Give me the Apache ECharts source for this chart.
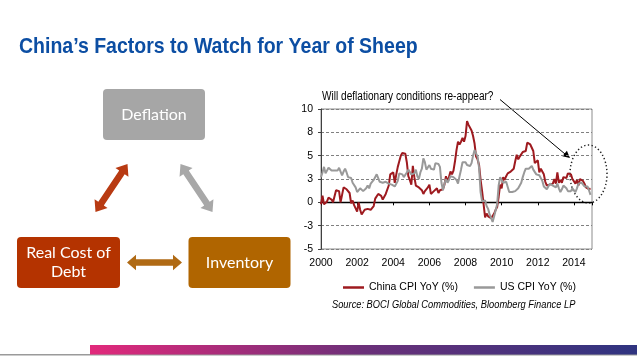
<!DOCTYPE html>
<html><head><meta charset="utf-8">
<script src="https://cdn.jsdelivr.net/npm/echarts@6/dist/echarts.min.js"></script>
<style>html,body{margin:0;padding:0;background:#fff}#c{width:637px;height:356px}</style>
</head><body><div id="c"></div><script>
// ---- data (monthly, Jan 2000 - Dec 2014) ----
const startYear = 2000;
const chinaCpi = [
 -0.2, 0.7, -0.2, -0.3, 0.1, 0.5, 0.5, 0.3, 0.0, 0.0, 1.3, 1.5,
 1.2, 0.0, 0.8, 1.6, 1.7, 1.4, 1.5, 1.0, -0.1, 0.2, -0.3, -0.3,
 -1.0, 0.0, -0.8, -1.3, -1.1, -0.8, -0.9, -0.7, -0.7, -0.8, -0.7, -0.4,
 0.4, 0.2, 0.9, 1.0, 0.7, 0.3, 0.5, 0.9, 1.1, 1.8, 3.0, 3.2,
 3.2, 2.1, 3.0, 3.8, 4.4, 5.0, 5.3, 5.3, 5.2, 4.3, 2.8, 2.4,
 1.9, 3.9, 2.7, 1.8, 1.8, 1.6, 1.8, 1.3, 0.9, 1.2, 1.3, 1.6,
 1.9, 0.9, 0.8, 1.2, 1.4, 1.5, 1.0, 1.3, 1.5, 1.4, 1.9, 2.8,
 2.2, 2.7, 3.3, 3.0, 3.4, 4.4, 5.6, 6.5, 6.2, 6.5, 6.9, 6.5,
 7.1, 8.7, 8.3, 8.5, 7.7, 7.1, 6.3, 4.9, 4.6, 4.0, 2.4, 1.2,
 1.0, -1.6, -1.2, -1.5, -1.4, -1.7, -1.8, -1.2, -0.8, -0.5, 0.6, 1.9,
 1.5, 2.7, 2.4, 2.8, 3.1, 2.9, 3.3, 3.5, 3.6, 4.4, 5.1, 4.6,
 4.9, 4.9, 5.4, 5.3, 5.5, 6.4, 6.5, 6.2, 6.1, 5.5, 4.2, 4.1,
 4.5, 3.2, 3.6, 3.4, 3.0, 2.2, 1.8, 2.0, 1.9, 1.7, 2.0, 2.5,
 2.0, 3.2, 2.1, 2.4, 2.1, 2.7, 2.7, 2.6, 3.1, 3.2, 3.0, 2.5,
 2.5, 2.0, 2.4, 1.8, 2.5, 2.3, 2.3, 2.0, 1.6, 1.6, 1.4, 1.5
];
const usCpi = [
 2.7, 3.2, 3.8, 3.1, 3.2, 3.7, 3.7, 3.4, 3.5, 3.4, 3.4, 3.4,
 3.7, 3.5, 2.9, 3.3, 3.6, 3.2, 2.7, 2.7, 2.6, 2.1, 1.9, 1.6,
 1.1, 1.1, 1.5, 1.6, 1.2, 1.1, 1.5, 1.8, 1.5, 2.0, 2.2, 2.4,
 2.6, 3.0, 3.0, 2.2, 2.1, 2.1, 2.1, 2.2, 2.3, 2.0, 1.8, 1.9,
 1.9, 1.7, 1.7, 2.3, 3.1, 3.3, 3.0, 2.7, 2.5, 3.2, 3.5, 3.3,
 3.0, 3.0, 3.1, 3.5, 2.8, 2.5, 3.2, 3.6, 4.7, 4.3, 3.5, 3.4,
 4.0, 3.6, 3.4, 3.5, 4.2, 4.3, 4.1, 3.8, 2.1, 1.3, 2.0, 2.5,
 2.1, 2.4, 2.8, 2.6, 2.7, 2.7, 2.4, 2.0, 2.8, 3.5, 4.3, 4.1,
 4.3, 4.0, 4.0, 3.9, 4.2, 5.0, 5.6, 5.4, 4.9, 3.7, 1.1, 0.1,
 0.0, 0.2, -0.4, -0.7, -1.3, -1.4, -2.1, -1.5, -1.3, -0.2, 1.8, 2.7,
 2.6, 2.1, 2.3, 2.2, 2.0, 1.1, 1.2, 1.1, 1.1, 1.2, 1.1, 1.5,
 1.6, 2.1, 2.7, 3.2, 3.6, 3.6, 3.6, 3.8, 3.9, 3.5, 3.4, 3.0,
 2.9, 2.9, 2.7, 2.3, 1.7, 1.7, 1.4, 1.7, 2.0, 2.2, 1.8, 1.7,
 1.6, 2.0, 1.5, 1.1, 1.4, 1.8, 2.0, 1.5, 1.2, 1.0, 1.2, 1.5,
 1.6, 1.1, 1.5, 2.0, 2.1, 2.1, 2.0, 1.7, 1.7, 1.7, 1.3, 0.8
];
const seriesNames = ['China CPI YoY (%)', 'US CPI YoY (%)'];
const yTickValues = [-5, -2.5, 0, 2.5, 5, 7.5, 10];
const yTickLabels = ['-5', '-3', '0', '3', '5', '8', '10'];
const xTickYears = [2000, 2002, 2004, 2006, 2008, 2010, 2012, 2014];
const titleText = 'China\u2019s Factors to Watch for Year of Sheep';
const annotationText = 'Will deflationary conditions re-appear?';
const sourceText = 'Source: BOCI Global Commodities, Bloomberg Finance LP';

// ---- helpers ----
const toPairs = arr => arr.map((v, i) => [startYear + i / 12, v]);
function dblArrow(x1, y1, x2, y2, sw, hw, hl) {
  const dx = x2 - x1, dy = y2 - y1, L = Math.hypot(dx, dy);
  const ux = dx / L, uy = dy / L, px = -uy, py = ux;
  const a = [x1 + hl * ux, y1 + hl * uy], b = [x2 - hl * ux, y2 - hl * uy];
  return [[x1, y1], [a[0] + hw * px, a[1] + hw * py], [a[0] + sw * px, a[1] + sw * py],
    [b[0] + sw * px, b[1] + sw * py], [b[0] + hw * px, b[1] + hw * py], [x2, y2],
    [b[0] - hw * px, b[1] - hw * py], [b[0] - sw * px, b[1] - sw * py],
    [a[0] - sw * px, a[1] - sw * py], [a[0] - hw * px, a[1] - hw * py]];
}
function arrowHead(x1, y1, x2, y2, hl, hw) {
  const dx = x2 - x1, dy = y2 - y1, L = Math.hypot(dx, dy);
  const ux = dx / L, uy = dy / L, px = -uy, py = ux;
  const bx = x2 - hl * ux, by = y2 - hl * uy;
  return [[x2, y2], [bx + hw * px, by + hw * py], [bx - hw * px, by - hw * py]];
}

const SANS = '"Liberation Sans", Arial, sans-serif';
const DIAG = 'Lato, "Open Sans", sans-serif';

const chart = echarts.init(document.getElementById('c'), null, {renderer: 'canvas'});
chart.setOption({
  animation: false,
  backgroundColor: '#ffffff',
  grid: {left: 321, top: 109, width: 271, height: 140, show: true,
         borderColor: '#8c8c8c', borderWidth: 1, backgroundColor: 'transparent'},
  xAxis: [
    {type: 'value', min: 2000, max: 2015, interval: 2, position: 'bottom',
     axisLine: {show: false, onZero: false}, axisTick: {show: false}, splitLine: {show: false},
     axisLabel: {color: '#000', fontFamily: SANS, fontSize: 10.5, margin: 9,
       formatter: v => xTickYears.indexOf(v) >= 0 ? String(v) : ''}},
    {type: 'value', min: 2000, max: 2015, interval: 2, position: 'bottom',
     axisLine: {show: true, onZero: true, lineStyle: {color: '#000', width: 1.3}},
     axisTick: {show: true, length: 3, lineStyle: {color: '#000'}},
     axisLabel: {show: false}, splitLine: {show: false}}
  ],
  yAxis: {type: 'value', min: -5, max: 10, interval: 2.5,
    axisLine: {show: true, lineStyle: {color: '#404040', width: 1}},
    axisTick: {show: true, length: 3, lineStyle: {color: '#404040'}},
    axisLabel: {color: '#000', fontFamily: SANS, fontSize: 10.5, margin: 8,
      formatter: v => { const i = yTickValues.indexOf(v); return i >= 0 ? yTickLabels[i] : ''; }},
    splitLine: {show: true, lineStyle: {color: '#808080', type: [3, 2], width: 1}}},
  legend: {left: 338, top: 277, itemWidth: 21, itemHeight: 2.5, itemGap: 16, icon: 'rect',
    textStyle: {fontFamily: SANS, fontSize: 10.5, color: '#000'},
    data: seriesNames},
  series: [
    {name: seriesNames[0], type: 'line', xAxisIndex: 0, data: toPairs(chinaCpi), showSymbol: false,
     color: '#9e1a1f', lineStyle: {width: 2, color: '#9e1a1f'}},
    {name: seriesNames[1], type: 'line', xAxisIndex: 0, data: toPairs(usCpi), showSymbol: false,
     color: '#999999', lineStyle: {width: 2, color: '#999999'}}
  ],
  graphic: [
    {type: 'text', x: 19, y: 47, scaleX: 0.887, style: {text: titleText, fill: '#0c4ea3',
      font: 'bold 22px ' + SANS, verticalAlign: 'middle'}},
    // diagram boxes
    {type: 'rect', shape: {x: 103, y: 89, width: 102, height: 51, r: 4}, style: {fill: '#a6a6a6'}},
    {type: 'text', x: 154, y: 114.5, style: {text: 'Deflation', fill: '#fff', font: '16px ' + DIAG, align: 'center', verticalAlign: 'middle'}},
    {type: 'rect', shape: {x: 17, y: 237, width: 103, height: 51, r: 4}, style: {fill: '#b43300'}},
    {type: 'text', x: 68.5, y: 262.5, style: {text: 'Real Cost of\nDebt', fill: '#fff', font: '16px ' + DIAG, lineHeight: 19, align: 'center', verticalAlign: 'middle'}},
    {type: 'rect', shape: {x: 188.5, y: 237, width: 102, height: 51, r: 4}, style: {fill: '#b06500'}},
    {type: 'text', x: 239.5, y: 262.5, style: {text: 'Inventory', fill: '#fff', font: '16px ' + DIAG, align: 'center', verticalAlign: 'middle'}},
    // diagram arrows
    {type: 'polygon', shape: {points: dblArrow(95.5, 212, 127.5, 164, 3.3, 7.8, 10)}, style: {fill: '#b83a12'}},
    {type: 'polygon', shape: {points: dblArrow(180.5, 164, 212.5, 212, 3.3, 7.8, 10)}, style: {fill: '#a8a8a8'}},
    {type: 'polygon', shape: {points: dblArrow(127, 262.5, 182, 262.5, 3.3, 7.8, 9)}, style: {fill: '#b06a14'}},
    // chart annotation
    {type: 'text', x: 322, y: 96.5, scaleX: 0.84, style: {text: annotationText, fill: '#000', font: '12px ' + SANS, verticalAlign: 'middle'}},
    {type: 'line', shape: {x1: 500, y1: 99.5, x2: 565, y2: 154}, style: {stroke: '#000', lineWidth: 1}},
    {type: 'polygon', shape: {points: arrowHead(500, 99.5, 570, 158, 7, 3.5)}, style: {fill: '#000'}},
    {type: 'ellipse', shape: {cx: 588.5, cy: 174, rx: 18.5, ry: 29}, style: {fill: null, stroke: '#222', lineWidth: 1.5, lineDash: [1.3, 2.4]}},
    {type: 'text', x: 332, y: 305, scaleX: 0.845, style: {text: sourceText, fill: '#000', font: 'italic 11px ' + SANS, verticalAlign: 'middle'}},
    // footer
    {type: 'rect', shape: {x: 0, y: 354, width: 637, height: 1.5}, style: {fill: '#9a9a9a'}},
    {type: 'rect', shape: {x: 90, y: 345, width: 547, height: 9.5},
     style: {fill: new echarts.graphic.LinearGradient(0, 0, 1, 0, [
       {offset: 0, color: '#e2297b'}, {offset: 0.5, color: '#6b3079'}, {offset: 1, color: '#2f3480'}])}}
  ]
});
</script></body></html>
